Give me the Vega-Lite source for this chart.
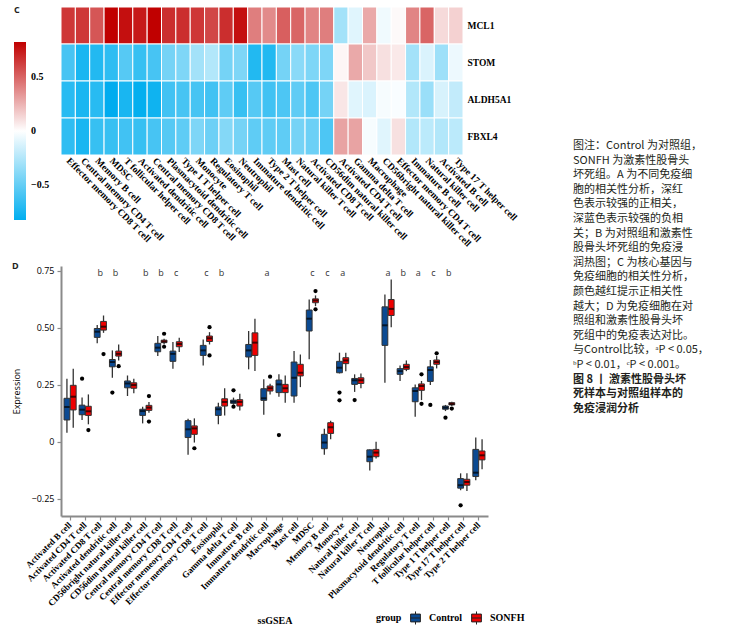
{
"$schema": "https://vega.github.io/schema/vega-lite/v6.json",
"padding": {"left": 12, "top": 5, "right": 0, "bottom": 0},
"background": "white",
"config": {"view": {"stroke": null}},
"datasets": {
"heat": [
{"gene":"MCL1","cell":"Effector memory CD8 T cell","r":0.65},{"gene":"MCL1","cell":"Central memory CD4 T cell","r":0.65},{"gene":"MCL1","cell":"Memory B cell","r":0.55},{"gene":"MCL1","cell":"MDSC","r":0.83},{"gene":"MCL1","cell":"T follicular helper cell","r":0.78},{"gene":"MCL1","cell":"Activated dendritic cell","r":0.75},{"gene":"MCL1","cell":"Central memory CD8 T cell","r":0.83},{"gene":"MCL1","cell":"Plasmacytoid dendritic cell","r":0.68},{"gene":"MCL1","cell":"Type 1 T helper cell","r":0.68},{"gene":"MCL1","cell":"Monocyte","r":0.65},{"gene":"MCL1","cell":"Regulatory T cell","r":0.6},{"gene":"MCL1","cell":"Eosinophil","r":0.68},{"gene":"MCL1","cell":"Neutrophil","r":0.78},{"gene":"MCL1","cell":"Immature dendritic cell","r":0.42},{"gene":"MCL1","cell":"Type 2 T helper cell","r":0.38},{"gene":"MCL1","cell":"Mast cell","r":0.52},{"gene":"MCL1","cell":"Natural killer T cell","r":0.5},{"gene":"MCL1","cell":"Activated CD8 T cell","r":0.4},{"gene":"MCL1","cell":"CD56dim natural killer cell","r":0.42},{"gene":"MCL1","cell":"Activated CD4 T cell","r":-0.3},{"gene":"MCL1","cell":"Gamma delta T cell","r":-0.1},{"gene":"MCL1","cell":"Macrophage","r":0.28},{"gene":"MCL1","cell":"CD56bright natural killer cell","r":-0.05},{"gene":"MCL1","cell":"Effector memory CD4 T cell","r":0.02},{"gene":"MCL1","cell":"Immature B cell","r":0.4},{"gene":"MCL1","cell":"Natural killer cell","r":0.5},{"gene":"MCL1","cell":"Activated B cell","r":0.12},{"gene":"MCL1","cell":"Type 17 T helper cell","r":0.15},
{"gene":"STOM","cell":"Effector memory CD8 T cell","r":-0.6},{"gene":"STOM","cell":"Central memory CD4 T cell","r":-0.75},{"gene":"STOM","cell":"Memory B cell","r":-0.72},{"gene":"STOM","cell":"MDSC","r":-0.68},{"gene":"STOM","cell":"T follicular helper cell","r":-0.55},{"gene":"STOM","cell":"Activated dendritic cell","r":-0.65},{"gene":"STOM","cell":"Central memory CD8 T cell","r":-0.6},{"gene":"STOM","cell":"Plasmacytoid dendritic cell","r":-0.45},{"gene":"STOM","cell":"Type 1 T helper cell","r":-0.42},{"gene":"STOM","cell":"Monocyte","r":-0.3},{"gene":"STOM","cell":"Regulatory T cell","r":-0.25},{"gene":"STOM","cell":"Eosinophil","r":-0.45},{"gene":"STOM","cell":"Neutrophil","r":-0.42},{"gene":"STOM","cell":"Immature dendritic cell","r":-0.72},{"gene":"STOM","cell":"Type 2 T helper cell","r":-0.72},{"gene":"STOM","cell":"Mast cell","r":-0.45},{"gene":"STOM","cell":"Natural killer T cell","r":-0.38},{"gene":"STOM","cell":"Activated CD8 T cell","r":-0.42},{"gene":"STOM","cell":"CD56dim natural killer cell","r":-0.42},{"gene":"STOM","cell":"Activated CD4 T cell","r":0.03},{"gene":"STOM","cell":"Gamma delta T cell","r":0.28},{"gene":"STOM","cell":"Macrophage","r":0.18},{"gene":"STOM","cell":"CD56bright natural killer cell","r":0.1},{"gene":"STOM","cell":"Effector memory CD4 T cell","r":0.07},{"gene":"STOM","cell":"Immature B cell","r":-0.3},{"gene":"STOM","cell":"Natural killer cell","r":-0.12},{"gene":"STOM","cell":"Activated B cell","r":-0.32},{"gene":"STOM","cell":"Type 17 T helper cell","r":-0.06},
{"gene":"ALDH5A1","cell":"Effector memory CD8 T cell","r":-0.7},{"gene":"ALDH5A1","cell":"Central memory CD4 T cell","r":-0.75},{"gene":"ALDH5A1","cell":"Memory B cell","r":-0.7},{"gene":"ALDH5A1","cell":"MDSC","r":-0.85},{"gene":"ALDH5A1","cell":"T follicular helper cell","r":-0.75},{"gene":"ALDH5A1","cell":"Activated dendritic cell","r":-0.82},{"gene":"ALDH5A1","cell":"Central memory CD8 T cell","r":-0.78},{"gene":"ALDH5A1","cell":"Plasmacytoid dendritic cell","r":-0.62},{"gene":"ALDH5A1","cell":"Type 1 T helper cell","r":-0.6},{"gene":"ALDH5A1","cell":"Monocyte","r":-0.6},{"gene":"ALDH5A1","cell":"Regulatory T cell","r":-0.62},{"gene":"ALDH5A1","cell":"Eosinophil","r":-0.52},{"gene":"ALDH5A1","cell":"Neutrophil","r":-0.65},{"gene":"ALDH5A1","cell":"Immature dendritic cell","r":-0.55},{"gene":"ALDH5A1","cell":"Type 2 T helper cell","r":-0.62},{"gene":"ALDH5A1","cell":"Mast cell","r":-0.58},{"gene":"ALDH5A1","cell":"Natural killer T cell","r":-0.52},{"gene":"ALDH5A1","cell":"Activated CD8 T cell","r":-0.58},{"gene":"ALDH5A1","cell":"CD56dim natural killer cell","r":-0.45},{"gene":"ALDH5A1","cell":"Activated CD4 T cell","r":0.08},{"gene":"ALDH5A1","cell":"Gamma delta T cell","r":-0.1},{"gene":"ALDH5A1","cell":"Macrophage","r":-0.12},{"gene":"ALDH5A1","cell":"CD56bright natural killer cell","r":-0.03},{"gene":"ALDH5A1","cell":"Effector memory CD4 T cell","r":-0.02},{"gene":"ALDH5A1","cell":"Immature B cell","r":-0.25},{"gene":"ALDH5A1","cell":"Natural killer cell","r":-0.33},{"gene":"ALDH5A1","cell":"Activated B cell","r":-0.13},{"gene":"ALDH5A1","cell":"Type 17 T helper cell","r":-0.2},
{"gene":"FBXL4","cell":"Effector memory CD8 T cell","r":-0.68},{"gene":"FBXL4","cell":"Central memory CD4 T cell","r":-0.75},{"gene":"FBXL4","cell":"Memory B cell","r":-0.65},{"gene":"FBXL4","cell":"MDSC","r":-0.65},{"gene":"FBXL4","cell":"T follicular helper cell","r":-0.62},{"gene":"FBXL4","cell":"Activated dendritic cell","r":-0.65},{"gene":"FBXL4","cell":"Central memory CD8 T cell","r":-0.6},{"gene":"FBXL4","cell":"Plasmacytoid dendritic cell","r":-0.55},{"gene":"FBXL4","cell":"Type 1 T helper cell","r":-0.52},{"gene":"FBXL4","cell":"Monocyte","r":-0.42},{"gene":"FBXL4","cell":"Regulatory T cell","r":-0.48},{"gene":"FBXL4","cell":"Eosinophil","r":-0.4},{"gene":"FBXL4","cell":"Neutrophil","r":-0.45},{"gene":"FBXL4","cell":"Immature dendritic cell","r":-0.52},{"gene":"FBXL4","cell":"Type 2 T helper cell","r":-0.52},{"gene":"FBXL4","cell":"Mast cell","r":-0.52},{"gene":"FBXL4","cell":"Natural killer T cell","r":-0.45},{"gene":"FBXL4","cell":"Activated CD8 T cell","r":-0.48},{"gene":"FBXL4","cell":"CD56dim natural killer cell","r":-0.58},{"gene":"FBXL4","cell":"Activated CD4 T cell","r":0.3},{"gene":"FBXL4","cell":"Gamma delta T cell","r":0.3},{"gene":"FBXL4","cell":"Macrophage","r":-0.03},{"gene":"FBXL4","cell":"CD56bright natural killer cell","r":-0.1},{"gene":"FBXL4","cell":"Effector memory CD4 T cell","r":0.1},{"gene":"FBXL4","cell":"Immature B cell","r":-0.25},{"gene":"FBXL4","cell":"Natural killer cell","r":-0.22},{"gene":"FBXL4","cell":"Activated B cell","r":-0.25},{"gene":"FBXL4","cell":"Type 17 T helper cell","r":-0.22}
],
"box": [
{"cell":"Activated B cell","group":"Control","lo":0.039,"q1":0.095,"med":0.152,"q3":0.19,"hi":0.276},
{"cell":"Activated B cell","group":"SONFH","lo":0.061,"q1":0.139,"med":0.197,"q3":0.247,"hi":0.32},
{"cell":"Activated CD4 T cell","group":"Control","lo":0.095,"q1":0.118,"med":0.14,"q3":0.16,"hi":0.193},
{"cell":"Activated CD4 T cell","group":"SONFH","lo":0.076,"q1":0.115,"med":0.133,"q3":0.155,"hi":0.207},
{"cell":"Activated CD8 T cell","group":"Control","lo":0.431,"q1":0.457,"med":0.482,"q3":0.496,"hi":0.511},
{"cell":"Activated CD8 T cell","group":"SONFH","lo":0.477,"q1":0.489,"med":0.504,"q3":0.527,"hi":0.553},
{"cell":"Activated dendritic cell","group":"Control","lo":0.28,"q1":0.328,"med":0.349,"q3":0.36,"hi":0.4},
{"cell":"Activated dendritic cell","group":"SONFH","lo":0.356,"q1":0.375,"med":0.385,"q3":0.397,"hi":0.426},
{"cell":"CD56bright natural killer cell","group":"Control","lo":0.2,"q1":0.236,"med":0.255,"q3":0.266,"hi":0.29},
{"cell":"CD56bright natural killer cell","group":"SONFH","lo":0.212,"q1":0.234,"med":0.248,"q3":0.258,"hi":0.276},
{"cell":"CD56dim natural killer cell","group":"Control","lo":0.08,"q1":0.115,"med":0.134,"q3":0.142,"hi":0.153},
{"cell":"CD56dim natural killer cell","group":"SONFH","lo":0.127,"q1":0.137,"med":0.149,"q3":0.159,"hi":0.174},
{"cell":"Central memory CD4 T cell","group":"Control","lo":0.375,"q1":0.394,"med":0.412,"q3":0.431,"hi":0.463},
{"cell":"Central memory CD4 T cell","group":"SONFH","lo":0.426,"q1":0.434,"med":0.439,"q3":0.445,"hi":0.451},
{"cell":"Central memory CD8 T cell","group":"Control","lo":0.32,"q1":0.352,"med":0.385,"q3":0.397,"hi":0.437},
{"cell":"Central memory CD8 T cell","group":"SONFH","lo":0.393,"q1":0.416,"med":0.428,"q3":0.438,"hi":0.455},
{"cell":"Effector memeory CD4 T cell","group":"Control","lo":-0.058,"q1":0.018,"med":0.054,"q3":0.092,"hi":0.1},
{"cell":"Effector memeory CD4 T cell","group":"SONFH","lo":-0.004,"q1":0.032,"med":0.058,"q3":0.069,"hi":0.102},
{"cell":"Effector memeory CD8 T cell","group":"Control","lo":0.334,"q1":0.378,"med":0.4,"q3":0.422,"hi":0.448},
{"cell":"Effector memeory CD8 T cell","group":"SONFH","lo":0.426,"q1":0.439,"med":0.453,"q3":0.463,"hi":0.48},
{"cell":"Eosinophil","group":"Control","lo":0.076,"q1":0.115,"med":0.142,"q3":0.152,"hi":0.171},
{"cell":"Eosinophil","group":"SONFH","lo":0.115,"q1":0.156,"med":0.174,"q3":0.188,"hi":0.234},
{"cell":"Gamma delta T cell","group":"Control","lo":0.162,"q1":0.168,"med":0.175,"q3":0.182,"hi":0.193},
{"cell":"Gamma delta T cell","group":"SONFH","lo":0.137,"q1":0.156,"med":0.174,"q3":0.184,"hi":0.21},
{"cell":"Immature B cell","group":"Control","lo":0.317,"q1":0.371,"med":0.4,"q3":0.426,"hi":0.485},
{"cell":"Immature B cell","group":"SONFH","lo":0.31,"q1":0.378,"med":0.434,"q3":0.477,"hi":0.539},
{"cell":"Immature dendritic cell","group":"Control","lo":0.118,"q1":0.181,"med":0.19,"q3":0.232,"hi":0.273},
{"cell":"Immature dendritic cell","group":"SONFH","lo":0.207,"q1":0.222,"med":0.234,"q3":0.244,"hi":0.254},
{"cell":"Macrophage","group":"Control","lo":0.197,"q1":0.215,"med":0.251,"q3":0.27,"hi":0.295},
{"cell":"Macrophage","group":"SONFH","lo":0.171,"q1":0.215,"med":0.234,"q3":0.251,"hi":0.29},
{"cell":"Mast cell","group":"Control","lo":0.171,"q1":0.2,"med":0.28,"q3":0.349,"hi":0.397},
{"cell":"Mast cell","group":"SONFH","lo":0.239,"q1":0.288,"med":0.302,"q3":0.339,"hi":0.382},
{"cell":"MDSC","group":"Control","lo":0.361,"q1":0.485,"med":0.539,"q3":0.577,"hi":0.623},
{"cell":"MDSC","group":"SONFH","lo":0.594,"q1":0.609,"med":0.619,"q3":0.626,"hi":0.641},
{"cell":"Memory B cell","group":"Control","lo":-0.058,"q1":-0.031,"med":-0.004,"q3":0.032,"hi":0.057},
{"cell":"Memory B cell","group":"SONFH","lo":0.01,"q1":0.036,"med":0.063,"q3":0.083,"hi":0.092},
{"cell":"Monocyte","group":"Control","lo":0.299,"q1":0.302,"med":0.324,"q3":0.352,"hi":0.39},
{"cell":"Monocyte","group":"SONFH","lo":0.309,"q1":0.342,"med":0.356,"q3":0.368,"hi":0.39},
{"cell":"Natural killer cell","group":"Control","lo":0.218,"q1":0.251,"med":0.269,"q3":0.277,"hi":0.295},
{"cell":"Natural killer cell","group":"SONFH","lo":0.234,"q1":0.255,"med":0.269,"q3":0.28,"hi":0.299},
{"cell":"Natural killer T cell","group":"Control","lo":-0.126,"q1":-0.088,"med":-0.066,"q3":-0.036,"hi":-0.034},
{"cell":"Natural killer T cell","group":"SONFH","lo":-0.074,"q1":-0.066,"med":-0.048,"q3":-0.034,"hi":0.0},
{"cell":"Neutrophil","group":"Control","lo":0.258,"q1":0.422,"med":0.51,"q3":0.591,"hi":0.645},
{"cell":"Neutrophil","group":"SONFH","lo":0.502,"q1":0.553,"med":0.582,"q3":0.623,"hi":0.711},
{"cell":"Plasmacytoid dendritic cell","group":"Control","lo":0.266,"q1":0.295,"med":0.309,"q3":0.32,"hi":0.334},
{"cell":"Plasmacytoid dendritic cell","group":"SONFH","lo":0.309,"q1":0.317,"med":0.327,"q3":0.339,"hi":0.356},
{"cell":"Regulatory T cell","group":"Control","lo":0.109,"q1":0.175,"med":0.222,"q3":0.236,"hi":0.251},
{"cell":"Regulatory T cell","group":"SONFH","lo":0.182,"q1":0.225,"med":0.244,"q3":0.253,"hi":0.266},
{"cell":"T follicular helper cell","group":"Control","lo":0.248,"q1":0.264,"med":0.314,"q3":0.328,"hi":0.358},
{"cell":"T follicular helper cell","group":"SONFH","lo":0.321,"q1":0.339,"med":0.349,"q3":0.358,"hi":0.375},
{"cell":"Type 1 T helper cell","group":"Control","lo":0.134,"q1":0.142,"med":0.149,"q3":0.156,"hi":0.161},
{"cell":"Type 1 T helper cell","group":"SONFH","lo":0.156,"q1":0.161,"med":0.165,"q3":0.171,"hi":0.175},
{"cell":"Type 17 T helper cell","group":"Control","lo":-0.213,"q1":-0.204,"med":-0.191,"q3":-0.162,"hi":-0.139},
{"cell":"Type 17 T helper cell","group":"SONFH","lo":-0.216,"q1":-0.191,"med":-0.177,"q3":-0.165,"hi":-0.139},
{"cell":"Type 2 T helper cell","group":"Control","lo":-0.169,"q1":-0.153,"med":-0.136,"q3":-0.034,"hi":0.018},
{"cell":"Type 2 T helper cell","group":"SONFH","lo":-0.121,"q1":-0.08,"med":-0.06,"q3":-0.041,"hi":0.01}
],
"out": [
{"cell":"Activated CD4 T cell","group":"Control","v":0.276},
{"cell":"Activated CD4 T cell","group":"SONFH","v":0.051},
{"cell":"Activated CD8 T cell","group":"SONFH","v":0.384},
{"cell":"Activated dendritic cell","group":"Control","v":0.215},
{"cell":"Activated dendritic cell","group":"SONFH","v":0.331},
{"cell":"CD56dim natural killer cell","group":"SONFH","v":0.2},
{"cell":"CD56dim natural killer cell","group":"SONFH","v":0.088},
{"cell":"Central memory CD4 T cell","group":"SONFH","v":0.473},
{"cell":"Central memory CD4 T cell","group":"SONFH","v":0.416},
{"cell":"Effector memeory CD4 T cell","group":"SONFH","v":-0.029},
{"cell":"Effector memeory CD8 T cell","group":"SONFH","v":0.502},
{"cell":"Effector memeory CD8 T cell","group":"SONFH","v":0.378},
{"cell":"Gamma delta T cell","group":"Control","v":0.225},
{"cell":"Gamma delta T cell","group":"Control","v":0.153},
{"cell":"Immature dendritic cell","group":"SONFH","v":0.285},
{"cell":"Macrophage","group":"Control","v":0.029},
{"cell":"MDSC","group":"SONFH","v":0.66},
{"cell":"MDSC","group":"SONFH","v":0.58},
{"cell":"Monocyte","group":"Control","v":0.215},
{"cell":"Monocyte","group":"Control","v":0.181},
{"cell":"Natural killer cell","group":"Control","v":0.182},
{"cell":"Regulatory T cell","group":"SONFH","v":0.295},
{"cell":"Regulatory T cell","group":"SONFH","v":0.166},
{"cell":"T follicular helper cell","group":"Control","v":0.161},
{"cell":"T follicular helper cell","group":"SONFH","v":0.387},
{"cell":"Type 1 T helper cell","group":"Control","v":0.105},
{"cell":"Type 1 T helper cell","group":"SONFH","v":0.145},
{"cell":"Type 17 T helper cell","group":"Control","v":-0.279}
],
"sig": [
{"cell":"Activated CD8 T cell","s":"b"},{"cell":"Activated dendritic cell","s":"b"},{"cell":"CD56dim natural killer cell","s":"b"},{"cell":"Central memory CD4 T cell","s":"b"},{"cell":"Central memory CD8 T cell","s":"c"},{"cell":"Effector memeory CD8 T cell","s":"c"},{"cell":"Eosinophil","s":"b"},{"cell":"Immature dendritic cell","s":"a"},{"cell":"MDSC","s":"c"},{"cell":"Memory B cell","s":"c"},{"cell":"Monocyte","s":"a"},{"cell":"Neutrophil","s":"a"},{"cell":"Plasmacytoid dendritic cell","s":"b"},{"cell":"Regulatory T cell","s":"a"},{"cell":"T follicular helper cell","s":"c"},{"cell":"Type 1 T helper cell","s":"b"}
],
"cap": [
{"line":1,"t":"图注：Control 为对照组，","b":0},
{"line":2,"t":"SONFH 为激素性股骨头","b":0},
{"line":3,"t":"坏死组。A 为不同免疫细","b":0},
{"line":4,"t":"胞的相关性分析，深红","b":0},
{"line":5,"t":"色表示较强的正相关，","b":0},
{"line":6,"t":"深蓝色表示较强的负相","b":0},
{"line":7,"t":"关；B 为对照组和激素性","b":0},
{"line":8,"t":"股骨头坏死组的免疫浸","b":0},
{"line":9,"t":"润热图；C 为核心基因与","b":0},
{"line":10,"t":"免疫细胞的相关性分析，","b":0},
{"line":11,"t":"颜色越红提示正相关性","b":0},
{"line":12,"t":"越大；D 为免疫细胞在对","b":0},
{"line":13,"t":"照组和激素性股骨头坏","b":0},
{"line":14,"t":"死组中的免疫表达对比。","b":0},
{"line":15,"t":"与Control比较，ᵃP < 0.05，","b":0},
{"line":16,"t":"ᵇP < 0.01，ᶜP < 0.001。","b":0},
{"line":17,"t":"图 8 丨 激素性股骨头坏","b":1},
{"line":18,"t":"死样本与对照组样本的","b":1},
{"line":19,"t":"免疫浸润分析","b":1}
]
},
"hconcat": [
{
"resolve": {"scale": {"color": "independent", "fill": "independent"}, "legend": {"color": "independent", "fill": "independent"}},
"vconcat": [
{
"title": {"text": "C", "anchor": "start", "frame": "bounds", "offset": -8, "font": "Open Sans", "fontSize": 9, "fontWeight": "bold", "color": "#231f20"},
"width": 402, "height": 148,
"data": {"name": "heat"},
"mark": {"type": "rect", "stroke": "white", "strokeWidth": 1},
"encoding": {
"x": {"field": "cell", "type": "nominal",
"sort": ["Effector memory CD8 T cell","Central memory CD4 T cell","Memory B cell","MDSC","T follicular helper cell","Activated dendritic cell","Central memory CD8 T cell","Plasmacytoid dendritic cell","Type 1 T helper cell","Monocyte","Regulatory T cell","Eosinophil","Neutrophil","Immature dendritic cell","Type 2 T helper cell","Mast cell","Natural killer T cell","Activated CD8 T cell","CD56dim natural killer cell","Activated CD4 T cell","Gamma delta T cell","Macrophage","CD56bright natural killer cell","Effector memory CD4 T cell","Immature B cell","Natural killer cell","Activated B cell","Type 17 T helper cell"],
"scale": {"paddingInner": 0, "paddingOuter": 0},
"axis": {"orient": "bottom", "title": null, "labelAngle": 45, "labelAlign": "left", "labelBaseline": "middle", "ticks": false, "domain": false, "labelPadding": 4, "labelFont": "Liberation Serif", "labelFontWeight": "bold", "labelFontSize": 9.5, "labelColor": "black", "labelLimit": 300}},
"y": {"field": "gene", "type": "nominal", "sort": ["MCL1","STOM","ALDH5A1","FBXL4"],
"scale": {"paddingInner": 0, "paddingOuter": 0},
"axis": {"orient": "right", "title": null, "ticks": false, "domain": false, "labelPadding": 4, "labelFont": "Liberation Serif", "labelFontWeight": "bold", "labelFontSize": 9.5, "labelColor": "black"}},
"color": {"field": "r", "type": "quantitative",
"scale": {"domain": [-0.83, 0, 0.83], "range": ["#00AEEF", "#FFFFFF", "#C00000"], "interpolate": "rgb"},
"legend": {"orient": "none", "legendX": -47, "legendY": 35, "direction": "vertical", "title": null, "gradientLength": 178, "gradientThickness": 12, "gradientStrokeWidth": 0, "values": [-0.5, 0, 0.5], "labelExpr": "datum.value == 0 ? '0' : format(datum.value, '.1f')", "labelFont": "Liberation Serif", "labelFontWeight": "bold", "labelFontSize": 10, "labelColor": "black", "labelOffset": 5}}
}
},
{
"title": {"text": "D", "anchor": "start", "frame": "bounds", "offset": -5, "font": "Open Sans", "fontSize": 9, "fontWeight": "bold", "color": "#231f20"},
"width": 427, "height": 250,
"encoding": {
"x": {"field": "cell", "type": "nominal",
"sort": ["Activated B cell","Activated CD4 T cell","Activated CD8 T cell","Activated dendritic cell","CD56bright natural killer cell","CD56dim natural killer cell","Central memory CD4 T cell","Central memory CD8 T cell","Effector memeory CD4 T cell","Effector memeory CD8 T cell","Eosinophil","Gamma delta T cell","Immature B cell","Immature dendritic cell","Macrophage","Mast cell","MDSC","Memory B cell","Monocyte","Natural killer cell","Natural killer T cell","Neutrophil","Plasmacytoid dendritic cell","Regulatory T cell","T follicular helper cell","Type 1 T helper cell","Type 17 T helper cell","Type 2 T helper cell"],
"scale": {"paddingInner": 0.2, "paddingOuter": 0.2},
"axis": {"title": "ssGSEA", "titleFont": "Liberation Serif", "titleFontWeight": "bold", "titleFontSize": 10, "titleColor": "black", "titlePadding": 8, "labelAngle": -45, "labelAlign": "right", "labelBaseline": "middle", "labelFont": "Liberation Serif", "labelFontWeight": "bold", "labelFontSize": 9, "labelColor": "black", "labelLimit": 300, "labelPadding": 3, "grid": false, "domainColor": "#8a8a8a", "domainWidth": 2, "tickColor": "#8a8a8a", "tickWidth": 1.2, "tickSize": 4}}
},
"layer": [
{"data": {"name": "box"}, "mark": {"type": "rule", "color": "#333333", "strokeWidth": 1.3},
"encoding": {"xOffset": {"field": "group", "type": "nominal", "sort": ["Control","SONFH"], "scale": {"paddingInner": 0.08}},
"y": {"field": "lo", "type": "quantitative", "scale": {"domain": [-0.326, 0.77], "nice": false, "zero": false},
"axis": {"values": [-0.25, 0, 0.25, 0.5, 0.75], "labelExpr": "datum.value == 0 ? '0' : format(datum.value, '.2f')", "grid": false, "title": "Expression", "titleFont": "Open Sans", "titleFontSize": 9, "titleFontWeight": "normal", "titleColor": "black", "titlePadding": 10, "labelFont": "Open Sans", "labelFontSize": 9, "labelColor": "black", "labelPadding": 3, "domainColor": "#8a8a8a", "domainWidth": 2, "tickColor": "#8a8a8a", "tickWidth": 1.2, "tickSize": 4}},
"y2": {"field": "hi"}}},
{"data": {"name": "box"}, "mark": {"type": "bar", "stroke": "#333333", "strokeWidth": 1},
"encoding": {"xOffset": {"field": "group", "type": "nominal", "sort": ["Control","SONFH"]},
"y": {"field": "q1", "type": "quantitative"}, "y2": {"field": "q3"},
"fill": {"field": "group", "type": "nominal", "scale": {"domain": ["Control","SONFH"], "range": ["#0B4A92", "#EE0000"]},
"legend": {"orient": "none", "legendX": 315, "legendY": 344, "direction": "horizontal", "title": "group", "titleOrient": "left", "titleFont": "Liberation Serif", "titleFontWeight": "bold", "titleFontSize": 10, "titleColor": "black", "titlePadding": 6, "labelFont": "Liberation Serif", "labelFontWeight": "bold", "labelFontSize": 10, "labelColor": "black", "symbolType": "M-0.75,-0.6H0.75V0.6H-0.75Z M-0.75,0H0.75 M0,-1V-0.6 M0,0.6V1", "symbolSize": 170, "symbolStrokeColor": "#222222", "symbolStrokeWidth": 1, "symbolOpacity": 1, "columnPadding": 6, "labelOffset": 6}}}},
{"data": {"name": "box"}, "mark": {"type": "tick", "color": "black", "thickness": 2, "size": 5.5},
"encoding": {"xOffset": {"field": "group", "type": "nominal", "sort": ["Control","SONFH"]},
"y": {"field": "med", "type": "quantitative"}}},
{"data": {"name": "out"}, "mark": {"type": "point", "filled": true, "color": "black", "size": 18, "opacity": 1},
"encoding": {"xOffset": {"field": "group", "type": "nominal", "sort": ["Control","SONFH"]},
"y": {"field": "v", "type": "quantitative"}}},
{"data": {"name": "sig"}, "mark": {"type": "text", "font": "Open Sans", "fontSize": 9, "color": "#333333", "baseline": "middle"},
"encoding": {"y": {"datum": 0.74, "type": "quantitative"}, "text": {"field": "s"}}}
]
}
],
"spacing": 14
},
{
"width": 170, "height": 420,
"data": {"name": "cap"},
"encoding": {
"x": {"datum": 0, "type": "quantitative", "scale": {"domain": [0, 1]}, "axis": null},
"y": {"field": "line", "type": "quantitative", "scale": {"domain": [-8.52, 20.25], "reverse": true, "nice": false, "zero": false}, "axis": null},
"text": {"field": "t"}
},
"layer": [
{"transform": [{"filter": "datum.b == 0"}], "mark": {"type": "text", "align": "left", "baseline": "middle", "font": "Noto Sans CJK SC", "fontSize": 11, "color": "#231f20"}},
{"transform": [{"filter": "datum.b == 1"}], "mark": {"type": "text", "align": "left", "baseline": "middle", "font": "Noto Sans CJK SC", "fontSize": 11, "fontWeight": "bold", "color": "#231f20"}}
]
}
],
"spacing": 48
}
